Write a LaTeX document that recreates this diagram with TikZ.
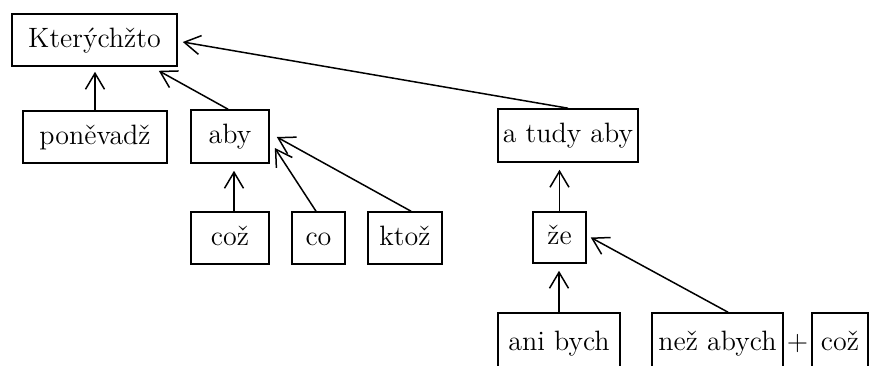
\documentclass[tikz,border=0pt]{standalone}
\usetikzlibrary{arrows.meta}
\begin{document}
\begin{tikzpicture}[x=0.5pt,y=-0.5pt,
  txt/.style={font=\fontsize{14}{17}\selectfont},
  box/.style={txt,draw=black,line width=0.8pt,rectangle,inner sep=0pt,
    text height=10.5pt,text depth=3.5pt},
  arr/.style={line width=0.75pt,-{Straight Barb[length=8pt,width=9.5pt,line width=0.75pt]}}]
\useasboundingbox (0,0) rectangle (869,365);
\clip (0,0) rectangle (869,365);
% top
\node[box,minimum width=82.5pt,minimum height=26pt] (K) at (94.5,40) {Kterýchžto};
% second row
\node[box,minimum width=72pt,minimum height=26pt] (pon) at (95,137) {poněvadž};
\node[box,minimum width=39pt,minimum height=26.5pt] (aby) at (230,136.5) {aby};
\node[box,minimum width=70pt,minimum height=26.5pt] (atudy) at (568,135.5) {a tudy aby};
% third row
\node[box,minimum width=39pt,minimum height=26pt] (coz) at (230,238) {což};
\node[box,minimum width=26.5pt,minimum height=26pt] (co) at (318.5,238) {co};
\node[box,minimum width=37pt,minimum height=26pt] (ktoz) at (405,238) {ktož};
\node[box,minimum width=26.5pt,minimum height=25.5pt] (ze) at (559.5,237.5) {že};
% bottom row
\node[box,minimum width=61pt,minimum height=30pt] (ani) at (559,343) {ani bych};
\node[box,minimum width=65.5pt,minimum height=30pt] (nez) at (717.5,343) {než abych};
\node[box,minimum width=28pt,minimum height=30pt] (coz2) at (840,343) {což};
\node[txt,inner sep=0pt,text height=10.5pt,text depth=3.5pt] (plus) at (797.5,343) {+};
% connectors
\draw[arr,shorten >=2.5pt] (pon.north) -- (pon.north |- K.south);
\draw[arr] ([xshift=-1pt]aby.north) -- ([xshift=-9.5pt,yshift=-2pt]K.south east);
\draw[arr] (atudy.north) -- ([xshift=2.5pt,yshift=-1pt]K.east);
\draw[arr,shorten >=3.5pt] ([xshift=2pt]coz.north) -- ([xshift=2pt]aby.south);
\draw[arr] ([xshift=-1.25pt]co.north) -- ([xshift=2.5pt,yshift=-5.75pt]aby.east);
\draw[arr] ([xshift=3pt]ktoz.north) -- ([xshift=3.5pt,yshift=-0.25pt]aby.east);
\draw[arr,shorten >=3.5pt] (ze.north) -- (ze.north |- atudy.south);
\draw[arr,shorten >=3.5pt] (ani.north) -- (ani.north |- ze.south);
\draw[arr] ([xshift=5.25pt]nez.north) -- ([xshift=2pt]ze.east);
\end{tikzpicture}
\end{document}
